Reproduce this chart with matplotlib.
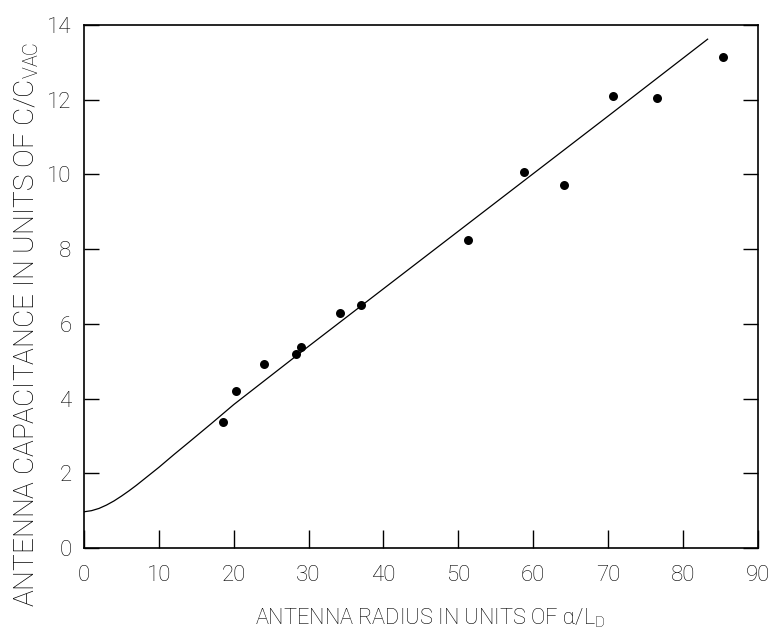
import numpy as np
import matplotlib
matplotlib.use("Agg")
import matplotlib.pyplot as plt

# measured points (antenna radius a/L_D, capacitance C/C_vac)
radius = [18.6, 20.3, 24.0, 28.3, 29.0, 34.2, 37.0, 51.3, 58.8, 64.1, 70.7, 76.5, 85.4]
capacitance = [3.37, 4.20, 4.93, 5.19, 5.38, 6.29, 6.50, 8.24, 10.06, 9.73, 12.11, 12.05, 13.15]

# theory curve
curve_x = [0.0, 1.0, 2.0, 3.0, 4.0, 5.0, 6.0, 7.0, 8.0, 9.0, 10.0, 12.0, 14.0, 17.0,
           20.0, 30.0, 40.0, 50.0, 60.0, 70.0, 83.3]
curve_y = [0.97, 1.00, 1.06, 1.15, 1.26, 1.39, 1.53, 1.68, 1.84, 2.00, 2.16, 2.50, 2.83, 3.33,
           3.84, 5.40, 6.94, 8.48, 10.02, 11.56, 13.62]

xticks = [0, 10, 20, 30, 40, 50, 60, 70, 80, 90]
yticks = [0, 2, 4, 6, 8, 10, 12, 14]

FONT = 'Roboto'
plt.rcParams['font.family'] = [FONT, 'DejaVu Sans']
plt.rcParams['font.weight'] = 'light'
plt.rcParams['mathtext.fontset'] = 'custom'
plt.rcParams['mathtext.rm'] = FONT + ':light'
plt.rcParams['mathtext.fallback'] = 'stixsans'

fig = plt.figure(figsize=(7.78, 6.34), dpi=100)
ax = fig.add_axes([0.108, 0.1356, 0.866, 0.825])

ax.plot(curve_x, curve_y, color='black', linewidth=0.9)
ax.scatter(radius, capacitance, s=42, color='black', zorder=3, linewidths=0)

ax.set_xlim(0, 90)
ax.set_ylim(0, 14)
ax.set_xticks(xticks)
ax.set_yticks(yticks)
ax.tick_params(axis='x', direction='in', length=13, width=1.0, pad=12,
               labelsize=16, top=False)
ax.tick_params(axis='y', direction='in', length=11, width=1.0, pad=9,
               labelsize=16, right=True)
for s in ax.spines.values():
    s.set_linewidth(1.2)

# axis titles, sized so they span about as far as in the original
xl = fig.text(430 / 778, 1 - 618 / 634, r'ANTENNA RADIUS IN UNITS OF ɑ/L$_{\rm D}$',
              fontsize=15, ha='center', va='center')
yl = fig.text(27 / 778, 1 - 324 / 634, r'ANTENNA CAPACITANCE IN UNITS OF C/C$_{\rm VAC}$',
              fontsize=15, ha='center', va='center', rotation=90)

fig.canvas.draw()
r = fig.canvas.get_renderer()
xl.set_fontsize(15 * 352 / xl.get_window_extent(r).width)
yl.set_fontsize(15 * 568 / yl.get_window_extent(r).height)

fig.savefig('out.png', dpi=100)
